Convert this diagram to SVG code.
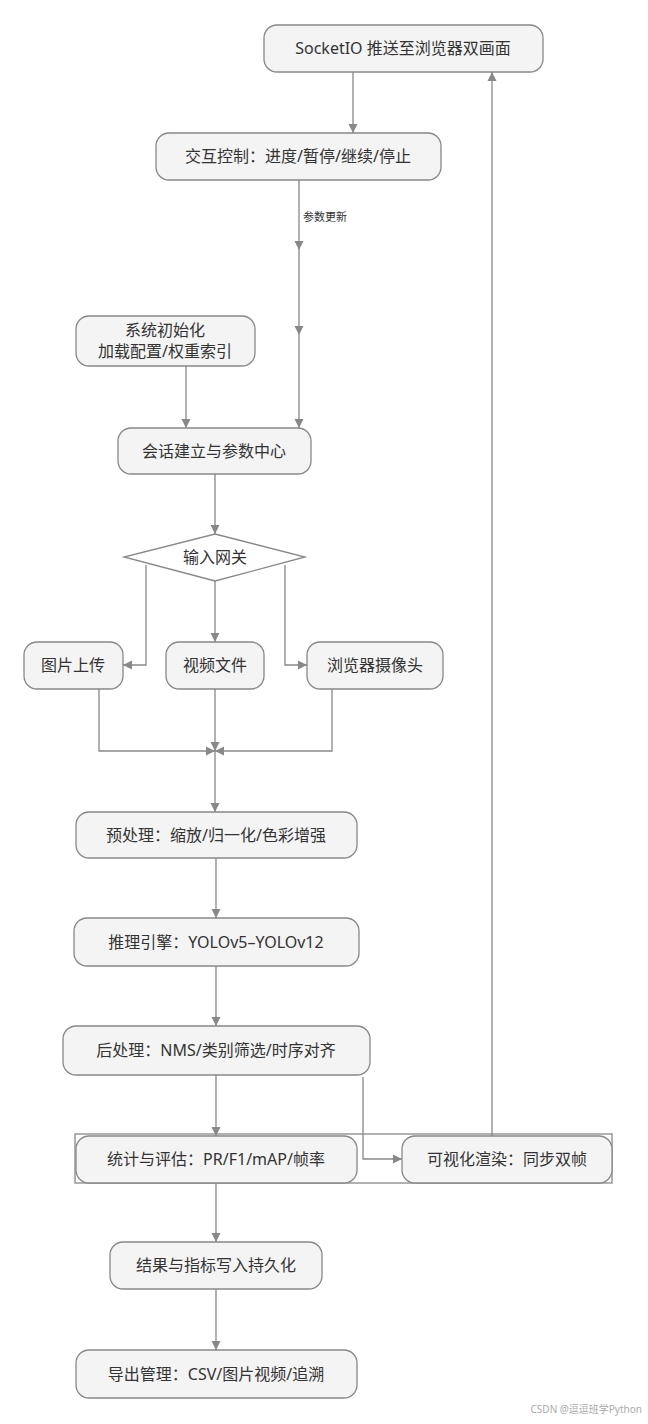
<svg xmlns="http://www.w3.org/2000/svg" width="648" height="1424" viewBox="0 0 648 1424">
<style>
.n{fill:#f4f4f4;stroke:#888;stroke-width:1.3}
.t{font-family:"Noto Sans","Noto Sans CJK SC",sans-serif;font-size:16px;fill:#333;text-anchor:middle;dominant-baseline:central}
.e{fill:none;stroke:#888;stroke-width:1.3}
</style>
<defs><marker id="a" viewBox="0 0 10 10" refX="10" refY="5" markerWidth="7" markerHeight="7" orient="auto-start-reverse"><path d="M0,0L10,5L0,10z" fill="#888"/></marker></defs>
<rect width="648" height="1424" fill="#fff"/>
<g id="connectors">
<path class="e" d="M353,72V133" marker-end="url(#a)"/>
<path class="e" d="M299,180V250" marker-end="url(#a)"/>
<path class="e" d="M299,250V335" marker-end="url(#a)"/>
<path class="e" d="M299,335V428" marker-end="url(#a)"/>
<text x="325" y="216" class="t" style="font-size:11px">参数更新</text>
<path class="e" d="M186,366V428" marker-end="url(#a)"/>
<path class="e" d="M215,474V534" marker-end="url(#a)"/>
<path class="e" d="M146,565V665H123" marker-end="url(#a)"/>
<path class="e" d="M215,581V642" marker-end="url(#a)"/>
<path class="e" d="M285,565V665H307" marker-end="url(#a)"/>
<path class="e" d="M99,689V751H215" marker-end="url(#a)"/>
<path class="e" d="M215,689V751" marker-end="url(#a)"/>
<path class="e" d="M332,689V751H215" marker-end="url(#a)"/>
<path class="e" d="M215,751V812" marker-end="url(#a)"/>
<path class="e" d="M216,858V918" marker-end="url(#a)"/>
<path class="e" d="M216,966V1026" marker-end="url(#a)"/>
<path class="e" d="M216,1075V1136" marker-end="url(#a)"/>
<path class="e" d="M363,1077V1159H402" marker-end="url(#a)"/>
<path class="e" d="M492,1136V72" marker-end="url(#a)"/>
<path class="e" d="M216,1183V1242" marker-end="url(#a)"/>
<path class="e" d="M216,1289V1350" marker-end="url(#a)"/>
</g>
<rect x="75" y="1134" width="537" height="49" fill="none" stroke="#888" stroke-width="1.3"/>
<g id="socket"><rect class="n" x="264" y="25" width="279" height="47" rx="13"/><text class="t" x="403" y="48">SocketIO 推送至浏览器双画面</text></g>
<g id="ctrl"><rect class="n" x="156" y="133" width="285" height="47" rx="13"/><text class="t" x="298" y="156">交互控制：进度/暂停/继续/停止</text></g>
<g id="init"><rect class="n" x="76" y="316" width="179" height="50" rx="13"/><text class="t" x="165" y="330">系统初始化</text><text class="t" x="165" y="351">加载配置/权重索引</text></g>
<g id="session"><rect class="n" x="118" y="428" width="193" height="46" rx="13"/><text class="t" x="214" y="451">会话建立与参数中心</text></g>
<g id="gw"><polygon points="215,534 305,557 215,581 124,557" fill="#fff" stroke="#888" stroke-width="1.3"/><text class="t" x="215" y="557">输入网关</text></g>
<g id="img"><rect class="n" x="24" y="642" width="99" height="47" rx="13"/><text class="t" x="73" y="665">图片上传</text></g>
<g id="vid"><rect class="n" x="166" y="642" width="98" height="47" rx="13"/><text class="t" x="215" y="665">视频文件</text></g>
<g id="cam"><rect class="n" x="307" y="642" width="136" height="47" rx="13"/><text class="t" x="375" y="665">浏览器摄像头</text></g>
<g id="pre"><rect class="n" x="76" y="812" width="281" height="46" rx="13"/><text class="t" x="216" y="835">预处理：缩放/归一化/色彩增强</text></g>
<g id="infer"><rect class="n" x="74" y="918" width="285" height="48" rx="13"/><text class="t" x="216" y="942">推理引擎：YOLOv5–YOLOv12</text></g>
<g id="post"><rect class="n" x="63" y="1026" width="307" height="49" rx="13"/><text class="t" x="216" y="1050">后处理：NMS/类别筛选/时序对齐</text></g>
<g id="stat"><rect class="n" x="76" y="1136" width="281" height="47" rx="13"/><text class="t" x="216" y="1159">统计与评估：PR/F1/mAP/帧率</text></g>
<g id="vis"><rect class="n" x="402" y="1136" width="210" height="47" rx="13"/><text class="t" x="507" y="1159">可视化渲染：同步双帧</text></g>
<g id="res"><rect class="n" x="110" y="1242" width="212" height="47" rx="13"/><text class="t" x="216" y="1265">结果与指标写入持久化</text></g>
<g id="exp"><rect class="n" x="76" y="1350" width="281" height="48" rx="13"/><text class="t" x="216" y="1374">导出管理：CSV/图片视频/追溯</text></g>
<text x="642" y="1413" style="font-family:'Noto Sans','Noto Sans CJK SC',sans-serif;font-size:10px;fill:#aaa;text-anchor:end">CSDN @逗逗班学Python</text>
</svg>
